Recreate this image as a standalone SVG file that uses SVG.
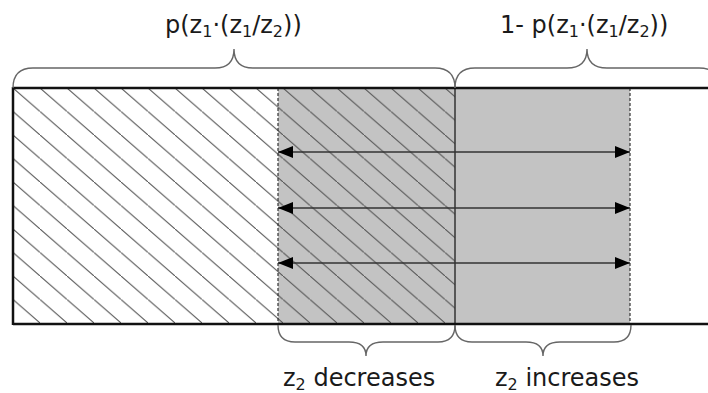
<svg xmlns="http://www.w3.org/2000/svg" width="708" height="393" viewBox="0 0 708 393">
<style>
.lbl{font-family:"DejaVu Sans","Verdana",sans-serif;font-size:24px;fill:#1a1a1a}
.sub{font-size:16px}
.brace{fill:none;stroke:#666;stroke-width:1.4}
.dash{stroke:#333;stroke-width:1.2;stroke-dasharray:3,2}
.arr{stroke:#333;stroke-width:1.6;marker-start:url(#ahL);marker-end:url(#ahR)}
.edge{stroke:#111;stroke-width:2.5;fill:none}
</style>
<defs>
<pattern id="hatch" patternUnits="userSpaceOnUse" x="13" y="88" width="27" height="23.5">
<line x1="-2" y1="-1.74" x2="29" y2="25.24" stroke="#555" stroke-width="1.1"/>
</pattern>
<marker id="ahR" viewBox="0 0 15 12" refX="15" refY="6" markerWidth="15" markerHeight="12" markerUnits="userSpaceOnUse" orient="auto">
<path d="M0,0 L15,6 L0,12 Z" fill="#000"/>
</marker>
<marker id="ahL" viewBox="0 0 15 12" refX="0" refY="6" markerWidth="15" markerHeight="12" markerUnits="userSpaceOnUse" orient="auto">
<path d="M15,0 L0,6 L15,12 Z" fill="#000"/>
</marker>
</defs>
<rect width="708" height="393" fill="#fff"/>
<g id="regions">
<rect x="278" y="88" width="352" height="236" fill="#c3c3c3"/>
<rect x="13" y="88" width="442" height="236" fill="url(#hatch)"/>
<line class="dash" x1="278" y1="88" x2="278" y2="324"/>
<line class="dash" x1="630" y1="88" x2="630" y2="324"/>
<line x1="455" y1="88" x2="455" y2="324" stroke="#333" stroke-width="1.5"/>
</g>
<g id="connectors">
<line class="arr" x1="278" y1="152" x2="630" y2="152"/>
<line class="arr" x1="278" y1="208" x2="630" y2="208"/>
<line class="arr" x1="278" y1="263" x2="630" y2="263"/>
</g>
<g id="frame">
<line class="edge" x1="13" y1="88" x2="708" y2="88"/>
<line class="edge" x1="13" y1="324" x2="708" y2="324"/>
<line class="edge" x1="13" y1="87" x2="13" y2="325"/>
</g>
<g id="braces">
<path class="brace" d="M13,88 Q13,68 33,68 L215,68 Q234,68 234,49 Q234,68 253,68 L435,68 Q455,68 455,88"/>
<path class="brace" d="M455,88 Q455,68 475,68 L567,68 Q587,68 587,49 Q587,68 607,68 L699,68 Q719,68 719,88"/>
<path class="brace" d="M278,325 Q278,342 295,342 L349,342 Q366,342 366,356 Q366,342 383,342 L438,342 Q455,342 455,325"/>
<path class="brace" d="M455,325 Q455,342 472,342 L526,342 Q543,342 543,356 Q543,342 560,342 L614,342 Q631,342 631,325"/>
</g>
<g id="labels">
<text class="lbl" x="165" y="33">p(z<tspan class="sub" dy="4">1</tspan><tspan dy="-4">·(z</tspan><tspan class="sub" dy="4">1</tspan><tspan dy="-4">/z</tspan><tspan class="sub" dy="4">2</tspan><tspan dy="-4">))</tspan></text>
<text class="lbl" x="500" y="33">1- p(z<tspan class="sub" dy="4">1</tspan><tspan dy="-4">·(z</tspan><tspan class="sub" dy="4">1</tspan><tspan dy="-4">/z</tspan><tspan class="sub" dy="4">2</tspan><tspan dy="-4">))</tspan></text>
<text class="lbl" x="283" y="386">z<tspan class="sub" dy="4">2</tspan><tspan dy="-4"> decreases</tspan></text>
<text class="lbl" x="495" y="386">z<tspan class="sub" dy="4">2</tspan><tspan dy="-4"> increases</tspan></text>
</g>
</svg>
